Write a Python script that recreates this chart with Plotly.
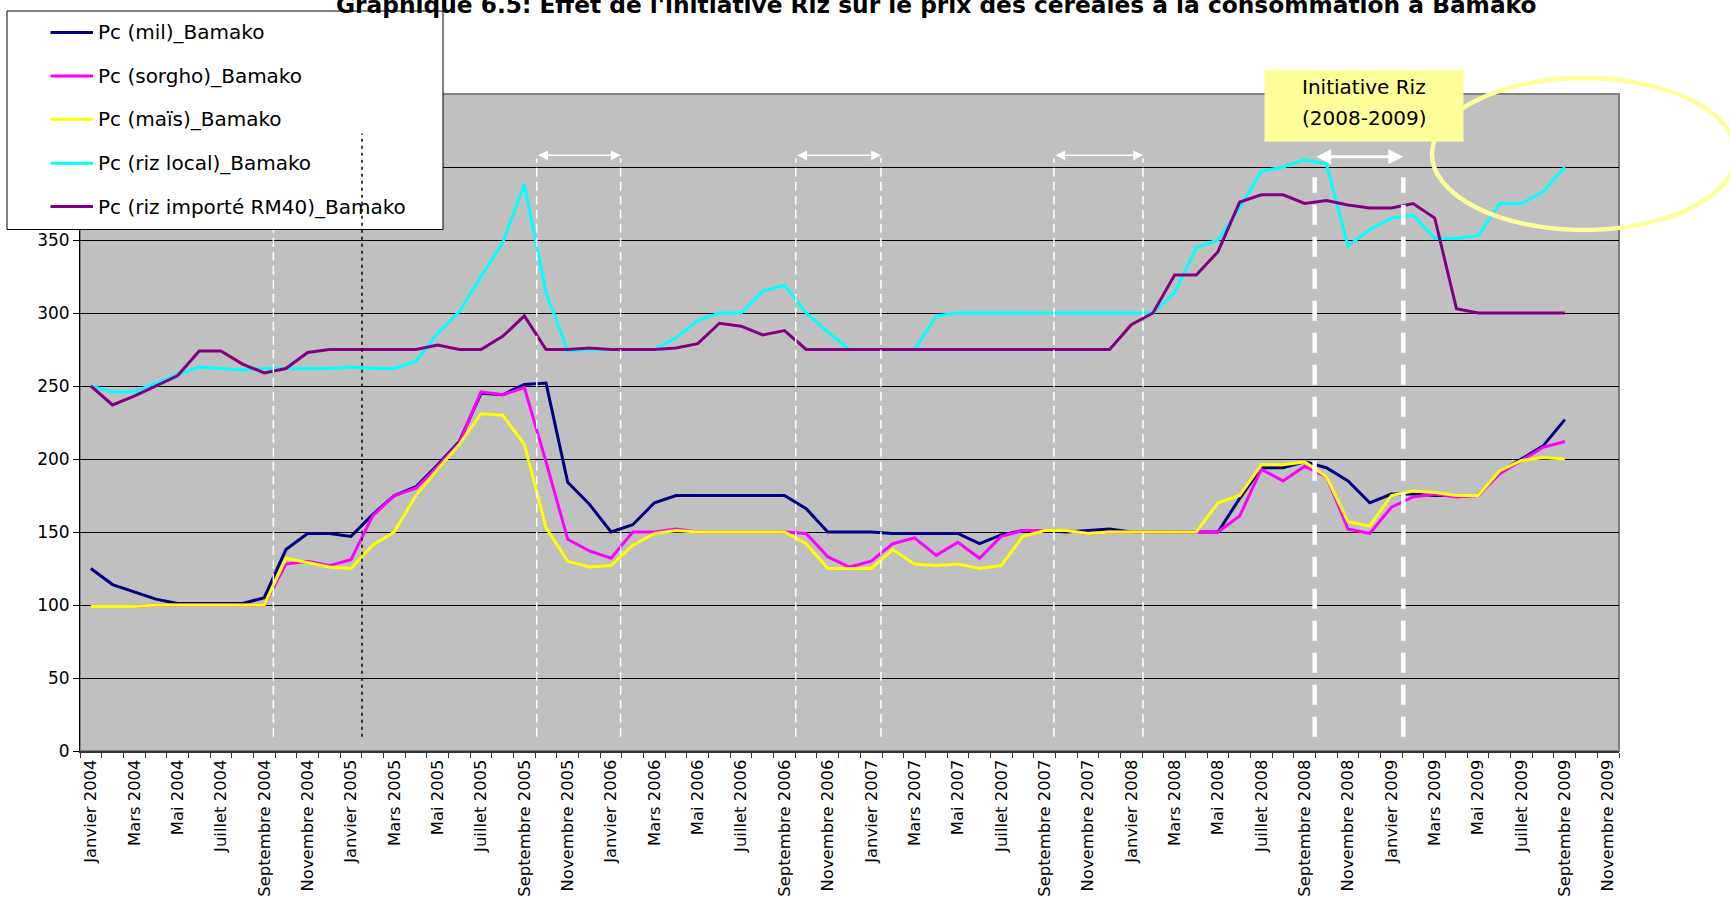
import plotly.graph_objects as go

# ---------------- data ----------------
MONTHS = ["Janvier", "Février", "Mars", "Avril", "Mai", "Juin", "Juillet",
          "Août", "Septembre", "Octobre", "Novembre", "Décembre"]
YEARS = [2004, 2005, 2006, 2007, 2008, 2009]
CATEGORIES = [f"{m} {y}" for y in YEARS for m in MONTHS][:71]  # Janvier 2004 .. Novembre 2009

MIL = [125, 114, 109, 104, 101, 101, 101, 101, 105, 138, 149, 149, 147, 162, 175, 181,
       196, 212, 245, 244, 251, 252, 184, 169, 150, 155, 170, 175, 175, 175, 175, 175,
       175, 166, 150, 150, 150, 149, 149, 149, 149, 142, 148, 151, 151, 150, 151, 152,
       150, 150, 150, 150, 150, 173, 194, 194, 198, 194, 185, 170, 176, 176, 175, 175,
       175, 191, 200, 209, 227]
SORGHO = [99, 99, 99, 100, 100, 100, 100, 100, 100, 128, 130, 127, 131, 161, 175, 180,
          195, 211, 246, 244, 249, 198, 145, 137, 132, 150, 150, 152, 150, 150, 150, 150,
          150, 149, 133, 126, 130, 142, 146, 134, 143, 132, 147, 151, 151, 151, 149, 150,
          150, 150, 150, 150, 150, 161, 193, 185, 195, 188, 152, 149, 167, 174, 176, 174,
          175, 190, 199, 208, 212]
MAIS = [99, 99, 99, 100, 100, 100, 100, 100, 100, 132, 129, 126, 125, 141, 150, 175,
        193, 210, 231, 230, 210, 153, 130, 126, 127, 141, 149, 151, 150, 150, 150, 150,
        150, 142, 125, 125, 125, 138, 128, 127, 128, 125, 127, 147, 151, 151, 149, 150,
        150, 150, 150, 150, 170, 175, 196, 196, 198, 188, 157, 154, 175, 178, 177, 175,
        175, 192, 199, 201, 200]
RIZ_LOCAL = [250, 246, 246, 252, 258, 263, 262, 261, 262, 262, 262, 262, 263, 262, 262, 267,
             286, 301, 325, 348, 388, 314, 274, 275, 275, 275, 275, 283, 295, 300, 300, 315,
             319, 300, 287, 275, 275, 275, 275, 298, 300, 300, 300, 300, 300, 300, 300, 300,
             300, 300, 314, 345, 350, 372, 397, 400, 405, 402, 346, 357, 365, 367, 351, 351,
             353, 375, 375, 383, 400]
RIZ_IMPORTE = [250, 237, 243, 250, 257, 274, 274, 265, 259, 262, 273, 275, 275, 275, 275, 275,
               278, 275, 275, 284, 298, 275, 275, 276, 275, 275, 275, 276, 279, 293, 291, 285,
               288, 275, 275, 275, 275, 275, 275, 275, 275, 275, 275, 275, 275, 275, 275, 275,
               292, 300, 326, 326, 342, 376, 381, 381, 375, 377, 374, 372, 372, 375, 365, 303,
               300, 300, 300, 300, 300]

SERIES_NAMES = ["Pc (mil)_Bamako", "Pc (sorgho)_Bamako", "Pc (maïs)_Bamako",
                "Pc (riz local)_Bamako", "Pc (riz importé RM40)_Bamako"]
SERIES = [MIL, SORGHO, MAIS, RIZ_LOCAL, RIZ_IMPORTE]
COLORS = ["#000080", "#FF00FF", "#FFFF00", "#00FFFF", "#800080"]

TITLE = "Graphique 6.5: Effet de l'initiative Riz sur le prix des céréales à la consommation à Bamako"
BOX_LINES = ["Initiative Riz", "(2008-2009)"]

# ---------------- geometry helpers (layout only) ----------------
W, H = 1730, 898
L, R, T, B = 80, 1619, 94, 751


def px(x):
    return (x - L) / (R - L)


def py(y):
    return (B - y) / (B - T)


FONT = "DejaVu Sans"

fig = go.Figure()
for name, vals, col in zip(SERIES_NAMES, SERIES, COLORS):
    fig.add_trace(go.Scatter(
        x=list(range(len(vals))), y=vals, mode="lines", name=name,
        line=dict(color=col, width=3), showlegend=False,
        hovertext=CATEGORIES[:len(vals)],
    ))

shapes = []
# plot border
shapes.append(dict(type="rect", xref="paper", yref="paper", x0=0, x1=1, y0=0, y1=1,
                   line=dict(color="#808080", width=2), layer="below"))
# thin white dashed lines (month boundaries of lean periods)
for xv in [8.42, 20.57, 24.44, 32.52, 36.45, 44.43, 48.54]:
    shapes.append(dict(type="line", xref="x", yref="y", x0=xv, x1=xv, y0=9.8, y1=406,
                       line=dict(color="white", width=1.5, dash="9px,5px"), layer="above"))
# thick dashed lines for Initiative Riz
for xv in [56.46, 60.55]:
    shapes.append(dict(type="line", xref="x", yref="y", x0=xv, x1=xv, y0=9.8, y1=393,
                       line=dict(color="white", width=4.5, dash="20px,12px"), layer="above"))
# legend box
shapes.append(dict(type="rect", xref="paper", yref="paper", x0=px(7), x1=px(443),
                   y0=py(229.5), y1=py(11), fillcolor="white",
                   line=dict(color="black", width=1), layer="above"))
# black dotted line
shapes.append(dict(type="line", xref="x", yref="y", x0=12.51, x1=12.51, y0=9.8, y1=423,
                   line=dict(color="black", width=1.5, dash="3px,4px"), layer="above"))
# legend samples
LEG_Y = [32.5, 76, 119.3, 163.3, 206.5]
for yy, col in zip(LEG_Y, COLORS):
    shapes.append(dict(type="line", xref="paper", yref="paper", x0=px(50.5), x1=px(93),
                       y0=py(yy), y1=py(yy), line=dict(color=col, width=3), layer="above"))
# Initiative Riz box
shapes.append(dict(type="rect", xref="paper", yref="paper", x0=px(1264.5), x1=px(1463.5),
                   y0=py(141.5), y1=py(70), fillcolor="#FFFF99", line=dict(width=0),
                   layer="above"))
# yellow ellipse
shapes.append(dict(type="circle", xref="paper", yref="paper", x0=px(1432), x1=px(1736),
                   y0=py(230), y1=py(78), line=dict(color="#FFFF99", width=4.5),
                   layer="above"))

annotations = []
annotations.append(dict(text=f"<b>{TITLE}</b>", xref="paper", yref="paper",
                        x=px(935.5), y=py(19.5), xanchor="center", yanchor="bottom",
                        showarrow=False, font=dict(family=FONT, size=23.3, color="black")))
for yy, name in zip(LEG_Y, SERIES_NAMES):
    annotations.append(dict(text=name, xref="paper", yref="paper", x=px(95.5), y=py(yy),
                            xanchor="left", yanchor="middle", showarrow=False,
                            font=dict(family=FONT, size=20, color="black")))
for yy, txt in zip([87.3, 118.3], BOX_LINES):
    annotations.append(dict(text=txt, xref="paper", yref="paper", x=px(1364), y=py(yy),
                            xanchor="center", yanchor="middle", showarrow=False,
                            font=dict(family=FONT, size=20, color="black")))
# double arrows
for a, b in [(20.57, 24.44), (32.52, 36.45), (44.43, 48.54)]:
    annotations.append(dict(text="", x=b, y=408, ax=a, ay=408, xref="x", yref="y",
                            axref="x", ayref="y", showarrow=True, arrowside="end+start",
                            arrowhead=2, arrowsize=1.3, arrowwidth=1.5, arrowcolor="white",
                            standoff=0, startstandoff=0))
annotations.append(dict(text="", x=60.55, y=407, ax=56.46, ay=407, xref="x", yref="y",
                        axref="x", ayref="y", showarrow=True, arrowside="end+start",
                        arrowhead=2, arrowsize=1, arrowwidth=3, arrowcolor="white",
                        standoff=0, startstandoff=0))

fig.update_layout(
    width=W, height=H,
    margin=dict(l=L, r=W - R, t=T, b=H - B, pad=0, autoexpand=False),
    paper_bgcolor="white", plot_bgcolor="#C0C0C0",
    font=dict(family=FONT, size=17, color="black"),
    shapes=shapes, annotations=annotations, showlegend=False,
    xaxis=dict(range=[-0.5, len(CATEGORIES) - 0.5], tickmode="array",
               tickvals=list(range(0, len(CATEGORIES), 2)), ticktext=CATEGORIES[::2],
               tickangle=-90, ticks="", ticklen=4, showgrid=False, zeroline=False,
               automargin=False, showline=True, linecolor="#333333", linewidth=2,
               tickfont=dict(family=FONT, size=16.4),
               minor=dict(tickmode="array",
                          tickvals=[k - 0.5 for k in range(len(CATEGORIES) + 1)],
                          ticks="outside", ticklen=5, tickcolor="#333333", showgrid=False)),
    yaxis=dict(range=[0, 450], dtick=50, tick0=0, showgrid=True, gridcolor="black",
               gridwidth=1, zeroline=False, showline=True, linecolor="black", linewidth=1,
               ticks="outside", ticklen=6, tickcolor="black", automargin=False,
               tickfont=dict(family=FONT, size=17)),
)

fig.write_html("out.html", config={"displayModeBar": False},
               post_script="document.body.style.margin='0';")
